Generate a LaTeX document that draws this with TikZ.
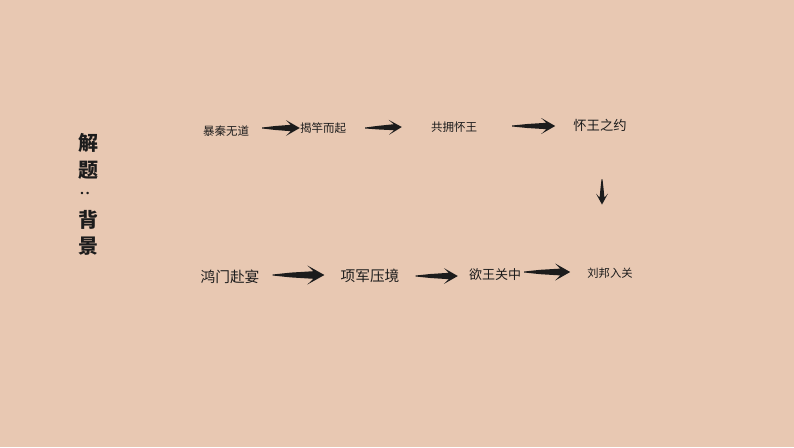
\documentclass[tikz,border=0pt]{standalone}
\usepackage{fontspec}
\setmainfont{Noto Sans CJK SC}
\usetikzlibrary{calc}
\definecolor{paper}{RGB}{232,200,178}
\definecolor{ink}{RGB}{28,28,28}
\begin{document}
\begin{tikzpicture}[x=1pt, y=-1pt, line join=round,
	step/.style={inner sep=0pt, text=ink, font=\fontsize{#1}{#1}\selectfont},
	title/.style={inner sep=0pt, text=ink, font=\fontsize{20}{20}\selectfont\bfseries},
	% #1 head length, #2 barb, #3 shaft, #4 neck position, #5 middle shaft
	brush/.style n args={5}{to path={
		($(\tikztostart)!0.5pt!-90:(\tikztotarget)$)
		-- ($(\tikztostart)!0.35!(\tikztotarget)!#5!-90:(\tikztotarget)$)
		-- ($(\tikztotarget)!#4!(\tikztostart)!#3!90:(\tikztostart)$)
		-- ($(\tikztotarget)!#1!(\tikztostart)!#2!90:(\tikztostart)$)
		-- (\tikztotarget)
		-- ($(\tikztotarget)!#1!(\tikztostart)!#2!-90:(\tikztostart)$)
		-- ($(\tikztotarget)!#4!(\tikztostart)!#3!-90:(\tikztostart)$)
		-- ($(\tikztostart)!0.35!(\tikztotarget)!#5!90:(\tikztotarget)$)
		-- ($(\tikztostart)!0.5pt!90:(\tikztotarget)$) -- cycle}}]

	\fill[paper] (0,0) rectangle (794,447);
	\useasboundingbox (0,0) rectangle (794,447);

	% title
	\node[title] (t1) at (88,143) {解};
	\node[title] (t2) at (88,170) {题};
	\node[title, rotate=90, font=\fontsize{12}{12}\selectfont\bfseries] (t3) at (85,190) {：};
	\node[title] (t4) at (88,220) {背};
	\node[title] (t5) at (88,246) {景};

	% upper row
	\node[step=11.5] (a1) at (226,131) {暴秦无道};
	\node[step=11.5] (a2) at (323,128) {揭竿而起};
	\node[step=11.5] (a3) at (454,127) {共拥怀王};
	\node[step=13.3] (a4) at (600,125) {怀王之约};

	% lower row
	\node[step=14.7] (b1) at (230,277) {鸿门赴宴};
	\node[step=14.7] (b2) at (370,276) {项军压境};
	\node[step=13] (b3) at (495,275) {欲王关中};
	\node[step=11.3] (b4) at (610,273) {刘邦入关};

	% brush arrows
	\fill[ink] ([xshift=13pt,yshift=3pt]a1.east) to[brush={14pt}{8pt}{3.2pt}{9pt}{2pt}] (a2.west);
	\fill[ink] ([xshift=19pt]a2.east) to[brush={13pt}{7.5pt}{3pt}{8pt}{1.8pt}] ([xshift=-29pt]a3.west);
	\fill[ink] ([xshift=35pt,yshift=1pt]a3.east) to[brush={14pt}{8pt}{3.2pt}{9pt}{2pt}] ([xshift=-18pt,yshift=-1pt]a4.west);
	\fill[ink] ([xshift=2pt,yshift=-48pt]a4.south) to[brush={11pt}{6pt}{2.4pt}{7pt}{1.5pt}] ([xshift=-8pt,yshift=63pt]b4.north);
	\fill[ink] ([xshift=13pt,yshift=2pt]b1.east) to[brush={17pt}{9.5pt}{3.8pt}{11pt}{2.4pt}] ([xshift=-16pt,yshift=1pt]b2.west);
	\fill[ink] ([xshift=16pt]b2.east) to[brush={14pt}{8pt}{3.2pt}{9pt}{2pt}] ([xshift=-11pt,yshift=-1pt]b3.west);
	\fill[ink] ([xshift=3pt,yshift=3pt]b3.east) to[brush={15pt}{8.5pt}{3.4pt}{10pt}{2.2pt}] ([xshift=-17pt,yshift=1pt]b4.west);
\end{tikzpicture}
\end{document}
